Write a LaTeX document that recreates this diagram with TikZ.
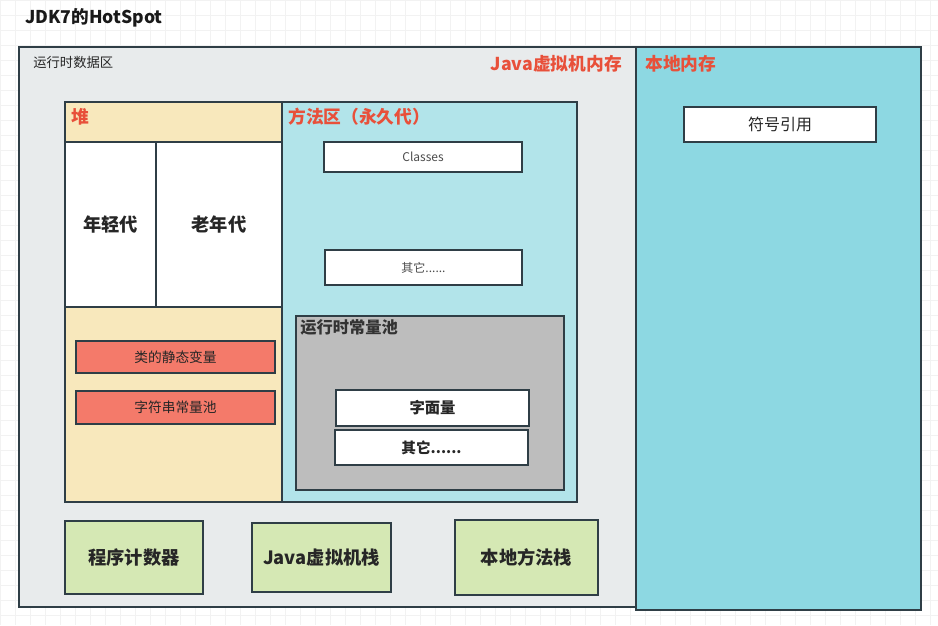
\documentclass[tikz,border=0pt]{standalone}
\usepackage{fontspec}
\setmainfont{Noto Sans CJK SC}
\definecolor{jvmgray}{HTML}{E8EBEC}
\definecolor{native}{HTML}{8DD8E2}
\definecolor{heapy}{HTML}{F8E8BC}
\definecolor{method}{HTML}{B2E4EA}
\definecolor{poolgray}{HTML}{BDBDBD}
\definecolor{salmon}{HTML}{F47A6A}
\definecolor{green}{HTML}{D5E8B4}
\definecolor{redtxt}{HTML}{E8503A}
\definecolor{edge}{HTML}{2F3E46}
\definecolor{gridc}{HTML}{F2F2F2}
\tikzset{
  bx/.style={draw=edge, line width=1pt, inner sep=0pt, outer sep=0pt, anchor=north west, align=center, text=black!85},
  redlbl/.style={text=redtxt, font=\bfseries\fontsize{13.3}{15}\selectfont, anchor=west, inner sep=0pt},
  big/.style={font=\bfseries\fontsize{13.7}{15}\selectfont},
}
\begin{document}
\begin{tikzpicture}[x=0.75pt,y=-0.75pt]
\useasboundingbox (0,0) rectangle (938,625);
\fill[white] (0,0) rectangle (938,625);
\foreach \i in {0,15,...,930} \draw[gridc, line width=0.4pt] (\i,0) -- (\i,625);
\foreach \j in {0,15,...,620} \draw[gridc, line width=0.4pt] (0,\j) -- (938,\j);
% title
\node[anchor=west, inner sep=0pt, font=\bfseries\fontsize{13.2}{15}\selectfont, text=black!90] (title) at (25,18) {JDK7的HotSpot};
% outer boxes
\node[bx, fill=jvmgray, minimum width=617*0.75pt, minimum height=560*0.75pt] (jvm) at (19,47) {};
\node[bx, fill=native, minimum width=285*0.75pt, minimum height=563*0.75pt] (nat) at (636,47) {};
\node[anchor=west, inner sep=0pt, font=\fontsize{10}{12}\selectfont, text=black!85] (rtda) at (33,62) {运行时数据区};
\node[redlbl, anchor=east] (jvmlbl) at (622,64) {Java虚拟机内存};
\node[redlbl] (natlbl) at (645,64) {本地内存};
\node[bx, fill=white, minimum width=192*0.75pt, minimum height=35*0.75pt, font=\fontsize{12}{14}\selectfont] (symref) at (684,107) {符号引用};
% heap
\node[bx, fill=heapy, minimum width=217*0.75pt, minimum height=400*0.75pt] (heap) at (65,102) {};
\node[bx, fill=heapy, minimum width=217*0.75pt, minimum height=40*0.75pt] (heaphead) at (65,102) {};
\node[redlbl] (heaplbl) at (71,117) {堆};
\node[bx, big, fill=white, minimum width=91*0.75pt, minimum height=165*0.75pt] (young) at (65,142) {年轻代};
\node[bx, big, fill=white, minimum width=126*0.75pt, minimum height=165*0.75pt] (old) at (156,142) {老年代};
\node[bx, fill=salmon, minimum width=199*0.75pt, minimum height=32*0.75pt, font=\fontsize{10.3}{12}\selectfont] (static) at (76,341) {类的静态变量};
\node[bx, fill=salmon, minimum width=199*0.75pt, minimum height=33*0.75pt, font=\fontsize{10.3}{12}\selectfont] (strpool) at (76,391) {字符串常量池};
% method area
\node[bx, fill=method, minimum width=295*0.75pt, minimum height=400*0.75pt] (meth) at (282,102) {};
\node[redlbl] (methlbl) at (288,117) {方法区（永久代）};
\node[bx, fill=white, minimum width=198*0.75pt, minimum height=30*0.75pt, font=\fontsize{9}{11}\selectfont, text=black!70] (classes) at (324,142) {Classes};
\node[bx, fill=white, minimum width=197*0.75pt, minimum height=35*0.75pt, font=\fontsize{9}{11}\selectfont, text=black!70] (other1) at (325,250) {其它......};
\node[bx, fill=poolgray, minimum width=268*0.75pt, minimum height=174*0.75pt] (pool) at (296,316) {};
\node[anchor=west, inner sep=0pt, font=\bfseries\fontsize{12.2}{14}\selectfont, text=black!80] (poollbl) at (300,327) {运行时常量池};
\node[bx, fill=white, minimum width=193*0.75pt, minimum height=36*0.75pt, font=\bfseries\fontsize{11.5}{13}\selectfont] (literal) at (336,390) {字面量};
\node[bx, fill=white, minimum width=193*0.75pt, minimum height=35*0.75pt, font=\bfseries\fontsize{11}{13}\selectfont] (other2) at (335,430) {其它......};
% bottom
\node[bx, big, fill=green, minimum width=138*0.75pt, minimum height=73*0.75pt] (pc) at (65,521) {程序计数器};
\node[bx, big, fill=green, minimum width=139*0.75pt, minimum height=69*0.75pt] (jstack) at (252,523) {Java虚拟机栈};
\node[bx, big, fill=green, minimum width=143*0.75pt, minimum height=75*0.75pt] (nstack) at (455,520) {本地方法栈};
\end{tikzpicture}
\end{document}
